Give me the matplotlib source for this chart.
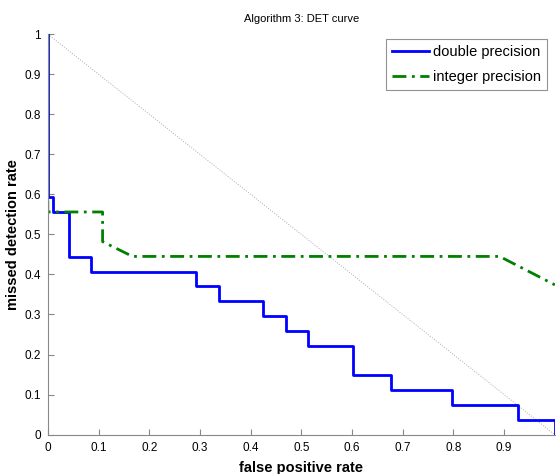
import matplotlib
matplotlib.use('Agg')
import matplotlib.pyplot as plt

plt.rcParams['font.family'] = ['Liberation Sans', 'DejaVu Sans']

# double precision: step drops (false positive rate, missed detection rate after drop)
double_fpr = [0.0, 0.0, 0.011, 0.011, 0.041, 0.041, 0.086, 0.086, 0.292, 0.292,
              0.337, 0.337, 0.425, 0.425, 0.470, 0.470, 0.514, 0.514, 0.602, 0.602,
              0.677, 0.677, 0.797, 0.797, 0.928, 0.928, 1.0, 1.0]
double_mdr = [1.0, 0.593, 0.593, 0.556, 0.556, 0.444, 0.444, 0.407, 0.407, 0.370,
              0.370, 0.333, 0.333, 0.296, 0.296, 0.259, 0.259, 0.222, 0.222, 0.148,
              0.148, 0.111, 0.111, 0.074, 0.074, 0.037, 0.037, 0.0]

# integer precision
int_fpr = [0.0, 0.0, 0.108, 0.108, 0.167, 0.891, 1.0, 1.0]
int_mdr = [1.0, 0.556, 0.556, 0.482, 0.445, 0.445, 0.374, 0.0]

fig = plt.figure(figsize=(5.56, 4.74), dpi=100)
ax = fig.add_axes([0.086, 0.083, 0.912, 0.845])

ax.plot([0, 1], [1, 0], linestyle=':', color='#aaaaaa', linewidth=0.7)
ax.plot(double_fpr, double_mdr, color='#0000ff', linewidth=2.0, label='double precision')
ax.plot(int_fpr[:-1], int_mdr[:-1], color='#008000', linewidth=2.0, linestyle='-.',
        dashes=(5, 2, 1, 2), label='integer precision')
ax.plot(int_fpr[-2:], int_mdr[-2:], color='#008000', linewidth=0.7, linestyle='--')

ax.set_xlim(0, 1)
ax.set_ylim(0, 1)
ax.set_xticks([i / 10 for i in range(10)])
ax.set_xticklabels(['0', '0.1', '0.2', '0.3', '0.4', '0.5', '0.6', '0.7', '0.8', '0.9'])
ax.set_yticks([i / 10 for i in range(11)])
ax.set_yticklabels(['0', '0.1', '0.2', '0.3', '0.4', '0.5', '0.6', '0.7', '0.8', '0.9', '1'])
ax.tick_params(direction='in', length=4, color='#888888', labelsize=8.5, pad=5)
for s in ['top', 'right']:
    ax.spines[s].set_visible(False)
for s in ['left', 'bottom']:
    ax.spines[s].set_color('#888888')
    ax.spines[s].set_zorder(3)

ax.set_title('Algorithm 3: DET curve', fontsize=8, pad=9)
ax.set_xlabel('false positive rate', fontsize=10.5, fontweight='bold', labelpad=5)
ax.set_ylabel('missed detection rate', fontsize=10.5, fontweight='bold', labelpad=3)

leg = ax.legend(loc='upper right', bbox_to_anchor=(0.984, 0.988), fontsize=10.5, fancybox=False,
                handlelength=2.5, borderpad=0.4, labelspacing=0.8, handletextpad=0.3,
                borderaxespad=0)
leg.get_frame().set_edgecolor('#777777')
leg.get_frame().set_linewidth(0.8)

fig.savefig('out.png')
